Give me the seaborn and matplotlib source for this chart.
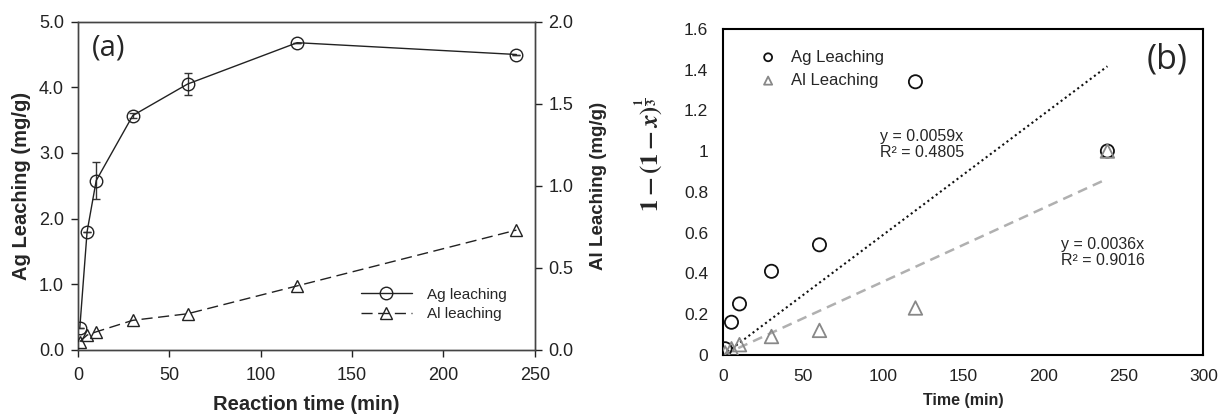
import numpy as np
import pandas as pd
import matplotlib
matplotlib.use("Agg")
import matplotlib.pyplot as plt
from matplotlib.lines import Line2D
import seaborn as sns

# ---- data ----
time_a = [1, 5, 10, 30, 60, 120, 240]
ag_leach = [0.33, 1.80, 2.58, 3.57, 4.05, 4.68, 4.50]
ag_err = [0.0, 0.0, 0.28, 0.04, 0.17, 0.0, 0.0]
al_leach = [0.05, 0.09, 0.11, 0.18, 0.22, 0.39, 0.73]

time_b = [1, 5, 10, 30, 60, 120, 240]
ag_kin = [0.03, 0.16, 0.25, 0.41, 0.54, 1.34, 1.00]
al_kin = [0.01, 0.03, 0.05, 0.09, 0.12, 0.23, 1.00]
fit_x = [0, 240]
ag_slope = 0.0059
al_slope = 0.0036

sns.set_style("ticks")
plt.rcParams['font.family'] = ['Liberation Sans', 'DejaVu Sans']
plt.rcParams['mathtext.fontset'] = 'stix'

fig = plt.figure(figsize=(12.18, 4.17), dpi=100)

# ---------------- panel (a) ----------------
ax = fig.add_axes([0.064, 0.161, 0.375, 0.787])
ax2 = ax.twinx()
dfa = pd.DataFrame({"t": time_a, "ag": ag_leach, "al": al_leach})
ax.errorbar(time_a, ag_leach, yerr=ag_err, fmt='none', ecolor='#333333',
            elinewidth=1, capsize=3, capthick=1, zorder=2)
sns.lineplot(data=dfa, x="t", y="ag", ax=ax, color='#222222', lw=1,
             marker='o', markersize=9, markerfacecolor='none',
             markeredgecolor='#222222', markeredgewidth=1, zorder=3)
sns.lineplot(data=dfa, x="t", y="al", ax=ax2, color='#222222', lw=1,
             marker='^', markersize=9, markerfacecolor='none',
             markeredgecolor='#222222', markeredgewidth=1,
             linestyle=(0, (8, 4)), zorder=3)
ax.set_xlim(0, 250)
ax.set_ylim(0, 5)
ax2.set_ylim(0, 2)
ax.set_xticks(np.arange(0, 251, 50))
ax.set_yticks(np.arange(0, 5.01, 1.0))
ax.set_yticklabels([f"{v:.1f}" for v in np.arange(0, 5.01, 1.0)])
ax2.set_yticks(np.arange(0, 2.01, 0.5))
ax2.set_yticklabels([f"{v:.1f}" for v in np.arange(0, 2.01, 0.5)])
for a in (ax, ax2):
    a.tick_params(direction='out', length=5, width=1, labelsize=13,
                  colors='#222222', pad=5)
    for s in a.spines.values():
        s.set_visible(True)
        s.set_color('#444444')
        s.set_linewidth(1)
ax.tick_params(axis='x', pad=7)
ax.set_xlabel("Reaction time (min)", fontsize=14.5, fontweight='bold', labelpad=8)
ax.set_ylabel("Ag Leaching (mg/g)", fontsize=14.5, fontweight='bold', labelpad=6)
ax2.set_ylabel("Al Leaching (mg/g)", fontsize=13.5, fontweight='bold', labelpad=12)
ax.text(0.03, 0.965, "(a)", transform=ax.transAxes, fontsize=21,
        family='Open Sans', va='top', ha='left')
handles = [Line2D([], [], color='#222222', lw=1, marker='o', markersize=9,
                  markerfacecolor='none'),
           Line2D([], [], color='#222222', lw=1, marker='^', markersize=9,
                  markerfacecolor='none', linestyle=(0, (8, 4)))]
ax.legend(handles, ["Ag leaching", "Al leaching"], loc='lower left',
          bbox_to_anchor=(0.59, 0.045), frameon=False, fontsize=11,
          handlelength=3.3, handletextpad=1.0, labelspacing=0.38)

# ---------------- panel (b) ----------------
bx = fig.add_axes([0.594, 0.149, 0.394, 0.782])
dfb = pd.DataFrame({"t": time_b, "ag": ag_kin, "al": al_kin})
fit_ag = pd.DataFrame({"t": fit_x, "y": [ag_slope * v for v in fit_x]})
fit_al = pd.DataFrame({"t": fit_x, "y": [al_slope * v for v in fit_x]})
sns.lineplot(data=fit_ag, x="t", y="y", ax=bx, color='#111111', lw=1.5,
             linestyle=(0, (1, 1.5)))
sns.lineplot(data=fit_al, x="t", y="y", ax=bx, color='#b0b0b0', lw=1.8,
             linestyle=(0, (4, 2.5)))
sns.scatterplot(data=dfb, x="t", y="ag", ax=bx, marker='o', s=90,
                facecolor='none', edgecolor='#111111', linewidth=1.3,
                label="Ag Leaching", zorder=3)
sns.scatterplot(data=dfb, x="t", y="al", ax=bx, marker='^', s=95,
                facecolor='none', edgecolor='#888888', linewidth=1.3,
                label="Al Leaching", zorder=3)
bx.set_xlim(0, 300)
bx.set_ylim(0, 1.6)
bx.set_xticks(np.arange(0, 301, 50))
yt = np.round(np.arange(0, 1.61, 0.2), 1)
bx.set_yticks(yt)
bx.set_yticklabels([f"{v:g}" for v in yt])
bx.tick_params(length=0, labelsize=12.5, colors='#222222')
bx.tick_params(axis='y', pad=11)
bx.tick_params(axis='x', pad=10)
for s in bx.spines.values():
    s.set_visible(True)
    s.set_color('black')
    s.set_linewidth(1.5)
bx.set_xlabel("Time (min)", fontsize=11.5, fontweight='bold', labelpad=7)
bx.set_ylabel(r"$\mathbf{1-(1-}\boldsymbol{x}\mathbf{)}^{\mathbf{\frac{1}{3}}}$",
              fontsize=18)
bx.yaxis.set_label_coords(-0.122, 0.613)
bx.text(0.967, 0.957, "(b)", transform=bx.transAxes, fontsize=24.5,
        family='Open Sans', va='top', ha='right')
bx.text(98, 1.11, "y = 0.0059x\nR\u00b2 = 0.4805", fontsize=11.5,
        va='top', ha='left', linespacing=1.1)
bx.text(211, 0.58, "y = 0.0036x\nR\u00b2 = 0.9016", fontsize=11.5,
        va='top', ha='left', linespacing=1.1)
leg = bx.legend(loc='upper left', bbox_to_anchor=(0.027, 0.982), frameon=False,
                fontsize=12, markerscale=0.6, handletextpad=0.35,
                labelspacing=0.5)

fig.savefig("out.png", dpi=100)
